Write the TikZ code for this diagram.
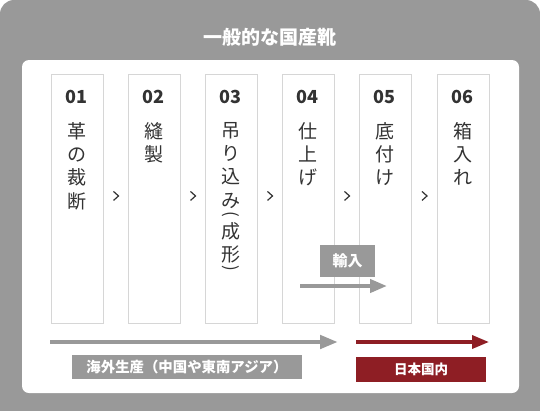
\documentclass[tikz,border=0pt]{standalone}
\usepackage{fontspec}
\setmainfont{Noto Sans CJK JP}
\usetikzlibrary{arrows.meta,calc}
\definecolor{bg}{HTML}{999999}
\definecolor{wine}{HTML}{8E1E24}
\definecolor{boxline}{HTML}{D6D6D6}
\definecolor{ink}{HTML}{333333}
\tikzset{
  stepbox/.style={draw=boxline, line width=0.9pt, fill=white, minimum width=52pt, minimum height=249pt, inner sep=0pt, anchor=north},
  stepnum/.style={font=\bfseries\fontsize{18}{18}\selectfont, text=ink, anchor=base, inner sep=0pt},
  steptext/.style={font=\fontsize{19}{23.3}\selectfont, text=ink, align=center, anchor=north, inner sep=0pt},
  paren/.style={font=\fontsize{17}{17}\selectfont, text=ink, inner sep=0pt, rotate=-90},
  chev/.style={draw=ink, line width=1.2pt},
  lbl/.style={text=white, font=\bfseries\fontsize{14.4}{14.4}\selectfont, inner sep=0pt},
  flow/.style={line width=4.5pt},
}
\begin{document}
\begin{tikzpicture}[x=1pt,y=-1pt]
\useasboundingbox (0,0) rectangle (540,410);
\begin{scope}
  \clip (0,0) rectangle (540,410);
  \fill[bg, rounded corners=14pt] (0,0) rectangle (540,440);
\end{scope}
\fill[white, rounded corners=7pt] (22,60) rectangle (519,393);
\node[text=white, font=\bfseries\fontsize{19}{19}\selectfont, inner sep=0pt] (title) at (270,37) {一般的な国産靴};
% step boxes
\node[stepbox] (s1) at (77,74) {};
\node[stepbox] (s2) at (154,74) {};
\node[stepbox] (s3) at (231,74) {};
\node[stepbox] (s4) at (308,74) {};
\node[stepbox] (s5) at (385,74) {};
\node[stepbox] (s6) at (463,74) {};
% numbers
\node[stepnum] (n1) at (76,103) {01};
\node[stepnum] (n2) at (153,103) {02};
\node[stepnum] (n3) at (230,103) {03};
\node[stepnum] (n4) at (307,103) {04};
\node[stepnum] (n5) at (384,103) {05};
\node[stepnum] (n6) at (462,103) {06};
% texts
\node[steptext] (t1) at (77,122) {革\\の\\裁\\断};
\node[steptext] (t2) at (154,122) {縫\\製};
\node[steptext] (t3) at (231,122) {吊\\り\\込\\み};
\node[paren] (p3a) at (231,214) {(};
\node[steptext] (t3b) at (231,222) {成\\形};
\node[paren] (p3b) at (231,268) {)};
\node[steptext] (t4) at (308,122) {仕\\上\\げ};
\node[steptext] (t5) at (385,122) {底\\付\\け};
\node[steptext] (t6) at (463,122) {箱\\入\\れ};
% chevrons
\foreach \a/\b/\c in {s1/s2/c1, s2/s3/c2, s3/s4/c3, s4/s5/c4, s5/s6/c5}{
  \coordinate (\c) at ($(\a.east)!.5!(\b.west)+(0.5,-3)$);
  \draw[chev] ($(\c)+(-2.5,-4.5)$) -- ($(\c)+(2.5,0)$) -- ($(\c)+(-2.5,4.5)$);
}
% import
\node[fill=bg, minimum width=55pt, minimum height=32pt, lbl, font=\bfseries\fontsize{15}{15}\selectfont] (imp) at (347.5,261) {輸入};
\coordinate (ia) at (300,286);
\coordinate (ib) at (387,286);
\draw[bg, line width=4pt, -{Triangle[length=17pt,width=13pt]}] (ia) -- (ib);
% overseas
\coordinate (oa) at (50,342);
\coordinate (ob) at (338,342);
\draw[bg, flow, -{Triangle[length=18pt,width=13pt]}] (oa) -- (ob);
\node[fill=bg, minimum width=230pt, minimum height=24pt, lbl] (ov) at (187,367) {海外生産（中国や東南アジア）};
% domestic
\coordinate (da) at (356,342);
\coordinate (db) at (489,342);
\draw[wine, line width=3.5pt, -{Triangle[length=17pt,width=13pt]}] (da) -- (db);
\node[fill=wine, minimum width=130pt, minimum height=25pt, lbl, font=\bfseries\fontsize{13.5}{13.5}\selectfont] (dm) at (421,369.5) {日本国内};
\end{tikzpicture}
\end{document}
